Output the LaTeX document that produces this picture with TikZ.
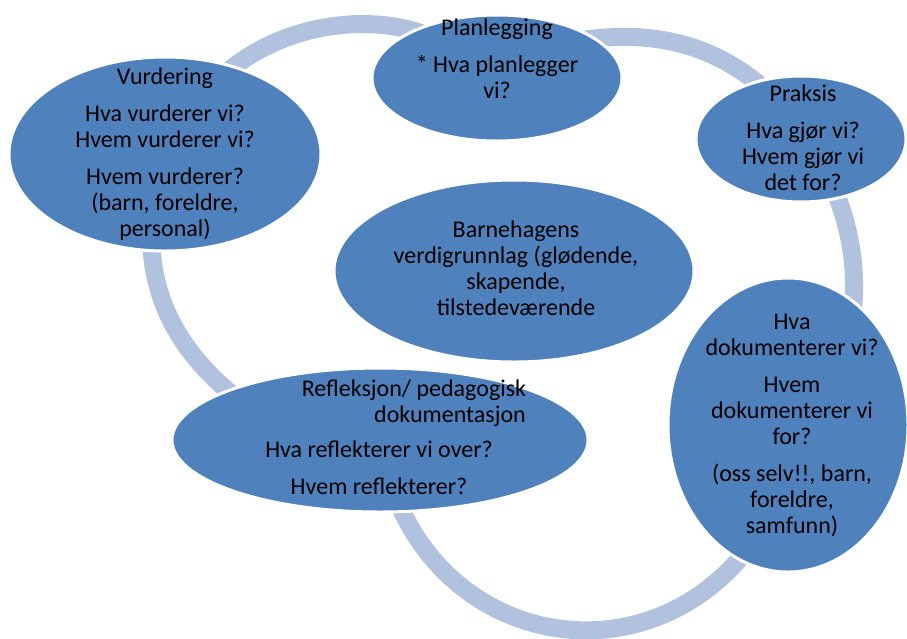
\documentclass[tikz,border=0pt]{standalone}
\usepackage{fontspec}
\setmainfont{Carlito}
\usetikzlibrary{shapes.geometric,backgrounds}
\definecolor{ellfill}{HTML}{4F81BD}
\definecolor{ringcol}{HTML}{B0C2DE}
\begin{document}
\begin{tikzpicture}[x=1pt,y=-1pt,
  ell/.style={ellipse, fill=ellfill, draw=white, line width=3pt, inner sep=0pt},
  txt/.style={align=center, inner sep=0pt, anchor=north, font=\fontsize{24}{26}\selectfont, text=black},
  ring/.style={draw=ringcol, line width=18pt, shorten <=-16pt, shorten >=-16pt}]
\useasboundingbox (0,0) rectangle (907,638);

\node[ell, minimum width=312pt, minimum height=194pt] (vurd) at (165,154) {};
\node[ell, minimum width=250pt, minimum height=126pt] (plan) at (497,78) {};
\node[ell, minimum width=210pt, minimum height=126pt] (prak) at (801,139) {};
\node[ell, minimum width=360pt, minimum height=182pt] (barn) at (514,271) {};
\node[ell, minimum width=240pt, minimum height=294pt] (dok) at (788,425) {};
\node[ell, minimum width=416pt, minimum height=144pt] (refl) at (380,440) {};

\node[txt] (tvurd) at (165,64) {\rule{0pt}{20pt}Vurdering\\[11pt]Hva vurderer vi?\\Hvem vurderer vi?\\[11pt]Hvem vurderer?\\(barn, foreldre,\\personal)};
\node[txt] (tplan) at (497,15) {\rule{0pt}{20pt}Planlegging\\[11pt]* Hva planlegger\\vi?};
\node[txt] (tprak) at (803,81) {\rule{0pt}{20pt}Praksis\\[11pt]Hva gjør vi?\\Hvem gjør vi\\det for?};
\node[txt] (tbarn) at (516,217) {\rule{0pt}{20pt}Barnehagens\\verdigrunnlag (glødende,\\skapende,\\tilstedeværende};
\node[txt] (trefl) at (379,376) {\hspace*{70pt}\rule{0pt}{20pt}Refleksjon/ pedagogisk\\\hspace*{142pt}dokumentasjon\\[9pt]Hva reflekterer vi over?\\[11pt]Hvem reflekterer?};
\node[txt] (tdok) at (792,309) {\rule{0pt}{20pt}Hva\\dokumenterer vi?\\[11pt]Hvem\\dokumenterer vi\\for?\\[11pt](oss selv!!, barn,\\foreldre,\\samfunn)};

\begin{pgfonlayer}{background}
\draw[ring] (vurd.52) .. controls (285,20) and (375,14) .. (plan.150);
\draw[ring] (plan.22) .. controls (650,30) and (712,42) .. (prak.128);
\draw[ring] (prak.-58) .. controls (850,225) and (858,270) .. (dok.62);
\draw[ring] (refl.-73) .. controls (458,650) and (649,677) .. (dok.-110);
\draw[ring] (vurd.-98) .. controls (152,295) and (175,350) .. (refl.162);
\end{pgfonlayer}
\end{tikzpicture}
\end{document}
